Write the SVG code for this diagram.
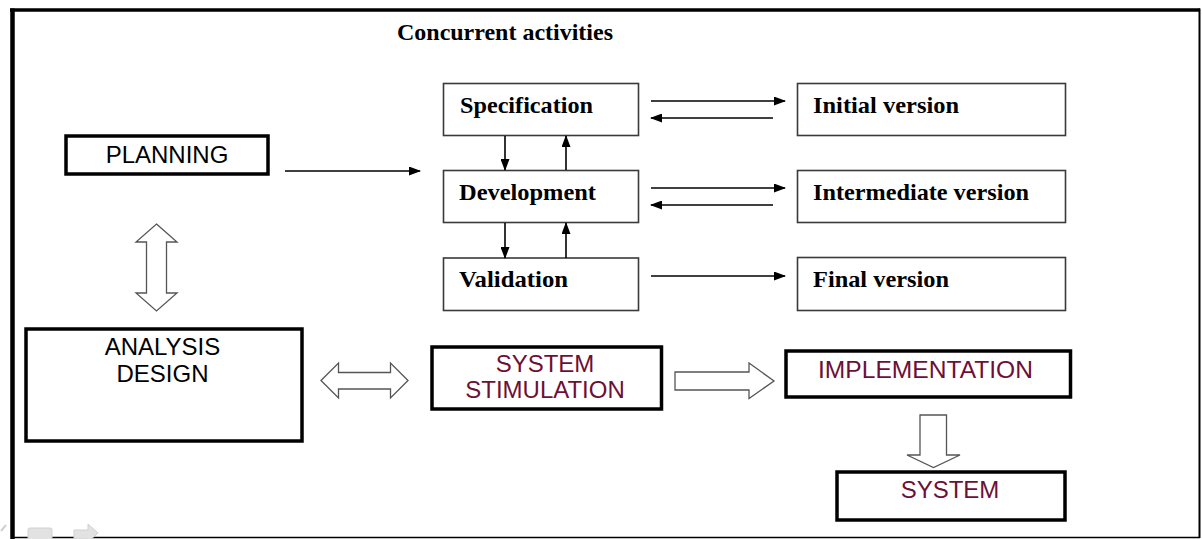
<svg xmlns="http://www.w3.org/2000/svg" width="1202" height="539" viewBox="0 0 1202 539">
  <style>
    .sans { font-family: "Liberation Sans", Arial, sans-serif; font-size: 24px; }
    .serif { font-family: "Liberation Serif", "Times New Roman", serif; font-weight: bold; font-size: 24px; fill: #000; }
    .maroon { fill: #6e0f36; }
    .thick { fill: #fff; stroke: #000; stroke-width: 3.5; }
    .thin { fill: #fff; stroke: #3a3a3a; stroke-width: 1.6; }
    .line { stroke: #000; stroke-width: 1.6; fill: none; marker-end: url(#head); }
    .hollow { fill: #fff; stroke: #555; stroke-width: 1.3; stroke-linejoin: miter; }
    .frame { stroke: #000; fill: none; }
  </style>
  <defs>
    <marker id="head" markerUnits="userSpaceOnUse" markerWidth="12" markerHeight="9" refX="11" refY="4.5" orient="auto">
      <path d="M0,0 L12,4.5 L0,9 Z" fill="#000"/>
    </marker>
  </defs>

  <rect width="1202" height="539" fill="#fff"/>

  <!-- page frame -->
  <g id="frame">
    <line class="frame" x1="10" y1="10" x2="1200" y2="10" stroke-width="3.5"/>
    <line class="frame" x1="12.5" y1="8.5" x2="12.5" y2="539" stroke-width="4.5"/>
    <line class="frame" x1="1199.5" y1="8.5" x2="1199.5" y2="538" stroke-width="2"/>
    <line class="frame" x1="12" y1="537.6" x2="1200" y2="537.6" stroke-width="1.5"/>
    <!-- faint toolbar glyphs in the lower left corner -->
    <line x1="1" y1="531" x2="6" y2="525" stroke="#d0d0d0" stroke-width="2"/>
    <rect x="28" y="528" width="24" height="12" rx="2" fill="#e2e2e2" stroke="#d0d0d0" stroke-width="1"/>
    <path d="M74,530 L88,530 L88,524 L98,533 L88,542 L88,539 L74,539 Z" fill="#e2e2e2" stroke="#d0d0d0" stroke-width="1"/>
  </g>

  <text class="serif" x="397" y="40" font-size="22.5" textLength="216" lengthAdjust="spacingAndGlyphs">Concurrent activities</text>

  <g id="planning">
    <rect class="thick" x="66" y="136" width="202" height="38"/>
    <text class="sans" x="167" y="163" text-anchor="middle">PLANNING</text>
  </g>

  <g id="analysis-design">
    <rect class="thick" x="26" y="329" width="276" height="112" stroke-width="4"/>
    <text class="sans" x="162.5" y="355" text-anchor="middle">ANALYSIS</text>
    <text class="sans" x="162.5" y="382" text-anchor="middle">DESIGN</text>
  </g>

  <g id="specification">
    <rect class="thin" x="443.5" y="83.5" width="195" height="52"/>
    <text class="serif" x="460" y="113" textLength="133" lengthAdjust="spacingAndGlyphs">Specification</text>
  </g>
  <g id="development">
    <rect class="thin" x="443.5" y="170.5" width="195" height="52"/>
    <text class="serif" x="459" y="199.5" textLength="137" lengthAdjust="spacingAndGlyphs">Development</text>
  </g>
  <g id="validation">
    <rect class="thin" x="443.5" y="258" width="195" height="52.5"/>
    <text class="serif" x="459" y="287" textLength="109" lengthAdjust="spacingAndGlyphs">Validation</text>
  </g>

  <g id="initial-version">
    <rect class="thin" x="797.5" y="83.5" width="268" height="52"/>
    <text class="serif" x="813" y="112.5" textLength="146" lengthAdjust="spacingAndGlyphs">Initial version</text>
  </g>
  <g id="intermediate-version">
    <rect class="thin" x="797.5" y="170.5" width="268" height="52"/>
    <text class="serif" x="813" y="199.5" textLength="216" lengthAdjust="spacingAndGlyphs">Intermediate version</text>
  </g>
  <g id="final-version">
    <rect class="thin" x="797.5" y="257.5" width="268" height="53"/>
    <text class="serif" x="813" y="287" textLength="136" lengthAdjust="spacingAndGlyphs">Final version</text>
  </g>

  <g id="system-stimulation">
    <rect class="thick" x="432" y="347" width="229.5" height="62" stroke-width="4"/>
    <text class="sans maroon" x="545" y="372" text-anchor="middle">SYSTEM</text>
    <text class="sans maroon" x="545" y="398" text-anchor="middle">STIMULATION</text>
  </g>

  <g id="implementation">
    <rect class="thick" x="786" y="351" width="284.5" height="46" stroke-width="4"/>
    <text class="sans maroon" x="925.5" y="378" text-anchor="middle" textLength="215" lengthAdjust="spacingAndGlyphs">IMPLEMENTATION</text>
  </g>

  <g id="system">
    <rect class="thick" x="837" y="472" width="228" height="48" stroke-width="4"/>
    <text class="sans maroon" x="950" y="498" text-anchor="middle">SYSTEM</text>
  </g>

  <g id="connectors">
    <!-- planning to the concurrent activities -->
    <line class="line" x1="285" y1="171" x2="420" y2="171"/>
    <!-- between the concurrent activities -->
    <line class="line" x1="505" y1="136" x2="505" y2="170"/>
    <line class="line" x1="566" y1="170" x2="566" y2="136"/>
    <line class="line" x1="505" y1="223" x2="505" y2="258"/>
    <line class="line" x1="566" y1="258" x2="566" y2="223"/>
    <!-- activities to versions and back -->
    <line class="line" x1="651" y1="101" x2="785" y2="101"/>
    <line class="line" x1="773" y1="118" x2="651" y2="118"/>
    <line class="line" x1="651" y1="188" x2="785" y2="188"/>
    <line class="line" x1="773" y1="205" x2="651" y2="205"/>
    <line class="line" x1="651" y1="276" x2="785" y2="276"/>
    <!-- hollow block arrows -->
    <path class="hollow" d="M156.5,224 L177,242 L166.5,242 L166.5,293 L177,293 L156.5,311 L136,293 L146.5,293 L146.5,242 L136,242 Z"/>
    <path class="hollow" d="M321,380.5 L338.5,363 L338.5,372.5 L390.5,372.5 L390.5,363 L408,380.5 L390.5,398 L390.5,389 L338.5,389 L338.5,398 Z"/>
    <path class="hollow" d="M675,372 L749,372 L749,363 L774,381 L749,398.5 L749,390 L675,390 Z"/>
    <path class="hollow" d="M920,415 L946.5,415 L946.5,455 L960,455 L933.5,467.5 L907,455 L920,455 Z"/>
  </g>
</svg>
